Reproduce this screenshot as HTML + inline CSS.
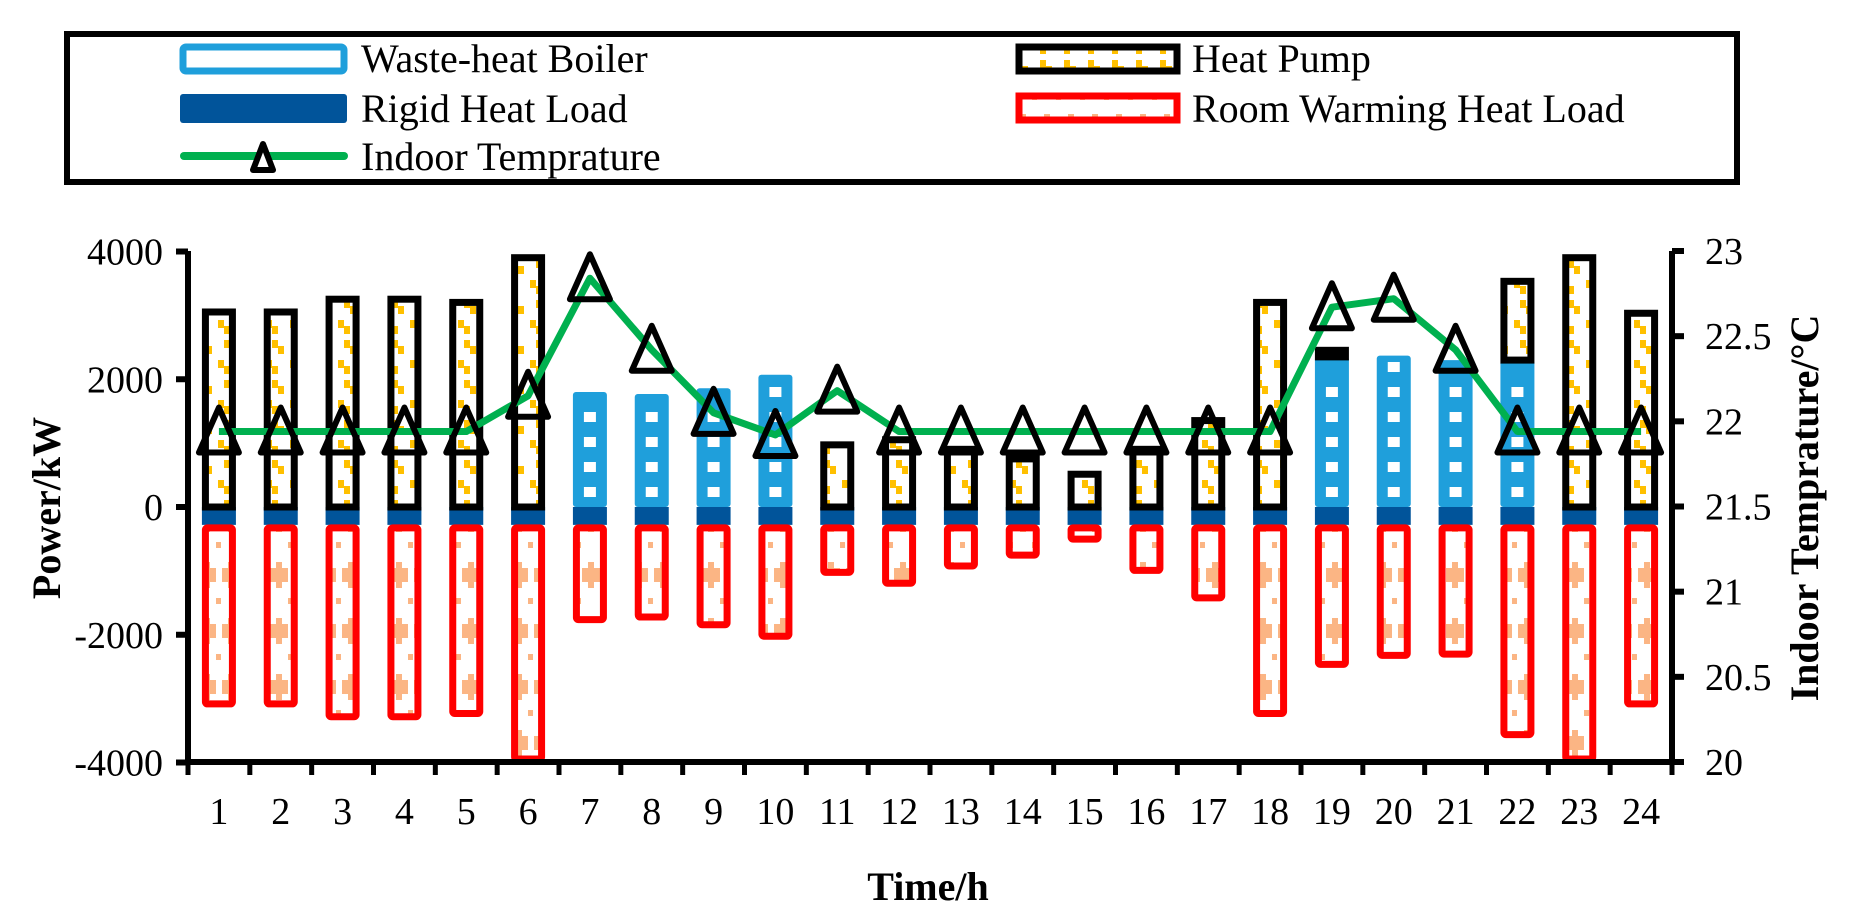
<!DOCTYPE html>
<html><head><meta charset="utf-8"><style>
html,body{margin:0;padding:0;background:#fff;}
svg{display:block;font-family:"Liberation Serif",serif;}
</style></head><body>
<svg id="chart" width="1863" height="921" viewBox="0 0 1863 921" xmlns="http://www.w3.org/2000/svg">
<defs>
<pattern id="hpPat" patternUnits="userSpaceOnUse" width="24" height="40">
<rect width="24" height="40" fill="#fff"/>
<path d="M2 0 L8 0 L8 6 L14 6 L14 14 L8 14 L8 8 L2 8Z" fill="#ffc000"/>
<path d="M8 20 L14 20 L14 26 L20 26 L20 34 L14 34 L14 28 L8 28Z" fill="#ffc000"/>
</pattern>
<pattern id="rwPat" patternUnits="userSpaceOnUse" width="24" height="56">
<rect width="24" height="56" fill="#fff"/>
<path d="M6 8 L12 8 L12 2 L18 2 L18 8 L24 8 L24 22 L18 22 L18 28 L12 28 L12 22 L6 22Z" fill="#fbb584"/>
<rect x="0" y="38" width="5" height="6" fill="#fbb584"/>
</pattern>
</defs>

<g>
<rect x="67" y="34" width="1670" height="148" fill="#fff" stroke="#000" stroke-width="6"/>
<g>
<rect x="183" y="47" width="161" height="24" rx="3" fill="#fff" stroke="#1f9fdb" stroke-width="7"/>
<text x="361" y="72" font-size="40">Waste-heat Boiler</text></g>
<g>
<rect x="1019" y="47" width="158" height="24" fill="url(#hpPat)" stroke="#000" stroke-width="7"/>
<text x="1192" y="72" font-size="40">Heat Pump</text></g>
<g>
<rect x="180" y="94" width="167" height="29" rx="3" fill="#01549a"/>
<text x="361" y="122" font-size="40">Rigid Heat Load</text></g>
<g>
<rect x="1019" y="96" width="158" height="24" fill="url(#rwPat)" stroke="#ff0000" stroke-width="7"/>
<text x="1192" y="122" font-size="40">Room Warming Heat Load</text></g>
<g>
<line x1="184" y1="156" x2="344" y2="156" stroke="#00b04f" stroke-width="8" stroke-linecap="round"/>
<path d="M263 144 L273 170 L253 170Z" fill="#fff" stroke="#000" stroke-width="6" stroke-linejoin="round"/>
<text x="361" y="170" font-size="40">Indoor Temprature</text></g>
</g>

<g id="plot"></g>
<text x="928" y="900" font-size="40" font-weight="bold" text-anchor="middle">Time/h</text>
<text transform="translate(60,508) rotate(-90)" font-size="40" font-weight="bold" text-anchor="middle">Power/kW</text>
<text transform="translate(1818,508) rotate(-90)" font-size="40" font-weight="bold" text-anchor="middle">Indoor Temprature/°C</text>
</svg>
<script>
const hours=[1,2,3,4,5,6,7,8,9,10,11,12,13,14,15,16,17,18,19,20,21,22,23,24];
const boiler=[0,0,0,0,0,0,1800,1770,1860,2070,0,0,0,0,0,0,0,0,2350,2370,2300,2300,0,0];
const heatPump=[3100,3100,3300,3300,3250,3950,0,0,0,0,1020,1100,950,800,560,950,1400,3250,150,0,0,1280,3950,3080];
const rigidLoad=[280,280,280,280,280,280,280,280,280,280,280,280,280,280,280,280,280,280,280,280,280,280,280,280];
const roomWarming=[2850,2850,3050,3050,3000,3720,1530,1490,1610,1790,790,960,690,520,270,760,1190,3000,2230,2090,2070,3330,3720,2850];
const temperature=[21.94,21.94,21.94,21.94,21.94,22.15,22.84,22.42,22.05,21.92,22.18,21.94,21.94,21.94,21.94,21.94,21.94,21.94,22.67,22.72,22.42,21.94,21.94,21.94];
const yTicks=[4000,2000,0,-2000,-4000];
const y2Ticks=[20,20.5,21,21.5,22,22.5,23];

const NS="http://www.w3.org/2000/svg";
const plot=document.getElementById('plot');
const X0=188,X1=1672,Y0=762,Y1=251;
const step=(X1-X0)/hours.length;
const xc=i=>X0+step*(i+0.5);
const y=v=>507-(v)*(Y0-Y1)/8000;
const y2=t=>Y0-(t-20)/3*(Y0-Y1);
function mk(tag,attrs,parent){const e=document.createElementNS(NS,tag);for(const k in attrs)e.setAttribute(k,attrs[k]);(parent||plot).appendChild(e);return e;}
const BW=27;
hours.forEach((h,i)=>{
  const cx=xc(i);
  if(rigidLoad[i]>0){const r=mk('rect',{x:cx-17,y:y(0),width:34,height:y(-rigidLoad[i])-y(0),fill:'#01549a'});
    
    }
  if(roomWarming[i]>0){const top=y(-rigidLoad[i]),bot=Math.min(y(-rigidLoad[i]-roomWarming[i]),Y0);
    const r=mk('rect',{x:cx-BW/2,y:top+3,width:BW,height:Math.max(bot-top-6,2),fill:'url(#rwPat)',stroke:'#ff0000','stroke-width':7,rx:2});
    
    }
  if(boiler[i]>0){const top=y(boiler[i]),bt=y(0);
    const g=mk('g',{});
    
    
    mk('rect',{x:cx-17,y:top,width:34,height:bt-top,fill:'#1f9fdb',rx:3},g);
    for(let sy=bt-10;sy-10>top+6;sy-=25){mk('rect',{x:cx-6,y:sy-10,width:12,height:10,fill:'#fff'},g);}
  }
  if(heatPump[i]>0){const b=boiler[i],t=y(b+heatPump[i]),bt=y(b);
    const r=mk('rect',{x:cx-BW/2,y:t+3,width:BW,height:Math.max(bt-t-3,2),fill:'url(#hpPat)',stroke:'#000','stroke-width':7});
    
    }
});
const ax=mk('path',{d:`M${X0} ${Y1} V${Y0} H${X1} V${Y1}`,fill:'none',stroke:'#000','stroke-width':6});


yTicks.forEach(v=>{
  mk('line',{x1:X0-12,x2:X0,y1:y(v),y2:y(v),stroke:'#000','stroke-width':6});
  const t=mk('text',{x:X0-25,y:y(v)+13,'font-size':38,'text-anchor':'end'});t.textContent=v;
  
  
});
y2Ticks.forEach(v=>{
  mk('line',{x1:X1,x2:X1+12,y1:y2(v),y2:y2(v),stroke:'#000','stroke-width':6});
  const t=mk('text',{x:X1+33,y:y2(v)+13,'font-size':38});t.textContent=v;
  
  
});
for(let k=0;k<=hours.length;k++){mk('line',{x1:X0+k*step,x2:X0+k*step,y1:Y0,y2:Y0+13,stroke:'#000','stroke-width':5});}
hours.forEach((h,i)=>{const t=mk('text',{x:xc(i),y:824,'font-size':38,'text-anchor':'middle'});t.textContent=h;
  
  });
const pts=temperature.map((t,i)=>`${xc(i)},${y2(t)}`).join(' ');
const ln=mk('polyline',{points:pts,fill:'none',stroke:'#00b04f','stroke-width':7,'stroke-linejoin':'round'});


temperature.forEach((t,i)=>{const cx=xc(i),cy=y2(t);
  const m=mk('path',{d:`M${cx} ${cy-24} L${cx+20} ${cy+21} L${cx-20} ${cy+21}Z`,fill:'none',stroke:'#000','stroke-width':6,'stroke-linejoin':'round'});
  
  });
</script>
</body></html>
